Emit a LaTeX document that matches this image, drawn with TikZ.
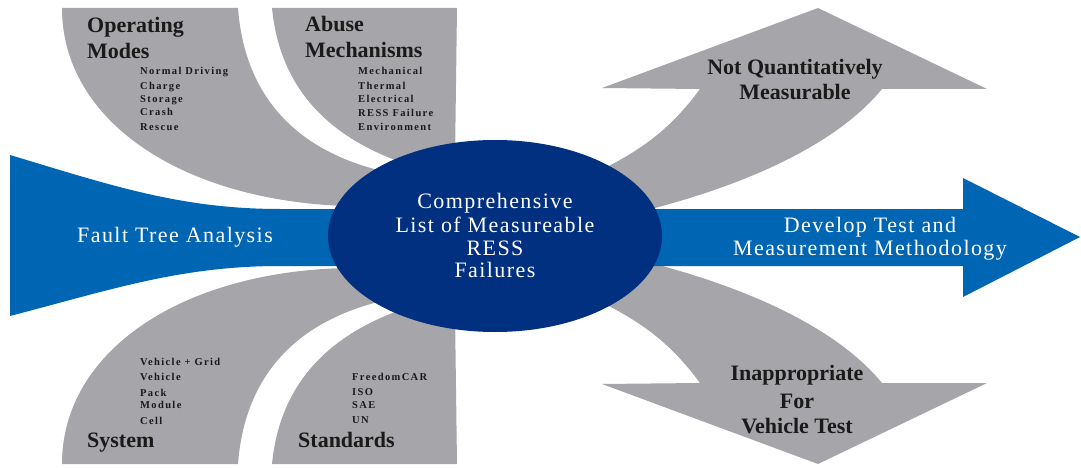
\documentclass[tikz,border=0pt]{standalone}
\usepackage{fontspec}
\setmainfont{Liberation Serif}
\newfontfamily\widefam[LetterSpace=6.5]{Liberation Serif}
\newfontfamily\listfam[LetterSpace=13]{Liberation Serif}
\usetikzlibrary{shapes.geometric}
\definecolor{gry}{HTML}{A6A6AA}
\definecolor{blu}{HTML}{0066B3}
\definecolor{navy}{HTML}{00307F}
\definecolor{ink}{HTML}{1A1A1A}
\begin{document}
\begin{tikzpicture}[x=1pt,y=-1pt,
  title/.style={font=\bfseries\fontsize{22}{22}\selectfont, text=ink, inner sep=0, anchor=base west},
  ctitle/.style={title, anchor=base},
  item/.style={font=\listfam\bfseries\fontsize{10.5}{10.5}\selectfont, text=ink, inner sep=0, anchor=base west},
  wtext/.style={font=\widefam\fontsize{22}{22}\selectfont, text=white, inner sep=0, anchor=base},
  band/.style={fill=gry}]
\useasboundingbox (0,0) rectangle (1081,468);
% gray bands, top
\fill[band] (62,8) -- (238,8) .. controls (245,100) and (300,150) .. (378,170) -- (400,200) -- (345,206) .. controls (180,200) and (62,120) .. (62,8) -- cycle;
\fill[band] (272,8) -- (457,8) -- (455,160) -- (400,170) -- (395,160) .. controls (330,135) and (280,90) .. (272,8) -- cycle;
% gray bands, bottom
\fill[band] (62,464) -- (238,464) .. controls (245,372) and (300,322) .. (378,302) -- (400,272) -- (345,268) .. controls (180,272) and (62,352) .. (62,464) -- cycle;
\fill[band] (272,464) -- (457,464) -- (455,312) -- (400,302) -- (395,312) .. controls (330,337) and (280,382) .. (272,464) -- cycle;
% right arrows
\fill[band] (602,88) -- (818,8) -- (987,89) -- (882,89) .. controls (840,140) and (760,180) .. (655,208) -- (600,200) -- (605,168) .. controls (640,150) and (670,130) .. (700,89) -- cycle;
\fill[band] (602,384) -- (818,464) -- (987,383) -- (882,383) .. controls (840,332) and (760,292) .. (655,264) -- (600,272) -- (605,304) .. controls (640,322) and (670,342) .. (700,383) -- cycle;
% blue funnel and arrow
\fill[blu] (10,155) .. controls (110,185) and (180,209) .. (280,209) -- (963,209) -- (963,178) -- (1080,237) -- (963,297) -- (963,266) -- (280,266) .. controls (180,266) and (110,290) .. (10,316) -- cycle;
% central ellipse
\node (core) [ellipse, fill=navy, minimum width=334pt, minimum height=192pt, inner sep=0] at (495,236) {};
% texts
\node (om1) [title] at (87,33) {Operating};
\node (om2) [title] at (87,59) {Modes};
\node (oi1) [item] at (140,75) {Normal Driving};
\node (oi2) [item] at (140,90) {Charge};
\node (oi3) [item] at (140,103) {Storage};
\node (oi4) [item] at (140,116) {Crash};
\node (oi5) [item] at (140,131) {Rescue};
\node (am1) [title] at (305,32) {Abuse};
\node (am2) [title] at (305,58) {Mechanisms};
\node (ai1) [item] at (358,75) {Mechanical};
\node (ai2) [item] at (358,90) {Thermal};
\node (ai3) [item] at (358,103) {Electrical};
\node (ai4) [item] at (358,117) {RESS Failure};
\node (ai5) [item] at (358,131) {Environment};
\node (si1) [item] at (140,365) {Vehicle + Grid};
\node (si2) [item] at (140,380) {Vehicle};
\node (si3) [item] at (140,396) {Pack};
\node (si4) [item] at (140,408) {Module};
\node (si5) [item] at (140,424) {Cell};
\node (sys) [title] at (87,447) {System};
\node (st1) [item] at (352,380) {FreedomCAR};
\node (st2) [item] at (352,395) {ISO};
\node (st3) [item] at (352,408) {SAE};
\node (st4) [item] at (352,423) {UN};
\node (std) [title] at (298,447) {Standards};
\node (nq1) [ctitle] at (795,75) {Not Quantitatively};
\node (nq2) [ctitle] at (795,100) {Measurable};
\node (iv1) [ctitle] at (797,380) {Inappropriate};
\node (iv2) [ctitle] at (797,408) {For};
\node (iv3) [ctitle] at (797,433) {Vehicle Test};
\node (c1) [wtext] at (495,208) {Comprehensive};
\node (c2) [wtext] at (495,232) {List of Measureable};
\node (c3) [wtext] at (495,255) {RESS};
\node (c4) [wtext] at (495,277) {Failures};
\node (fta) [wtext, anchor=base west] at (77,242) {Fault Tree Analysis};
\node (dt1) [wtext] at (870,232) {Develop Test and};
\node (dt2) [wtext] at (870,255) {Measurement Methodology};
\end{tikzpicture}
\end{document}
